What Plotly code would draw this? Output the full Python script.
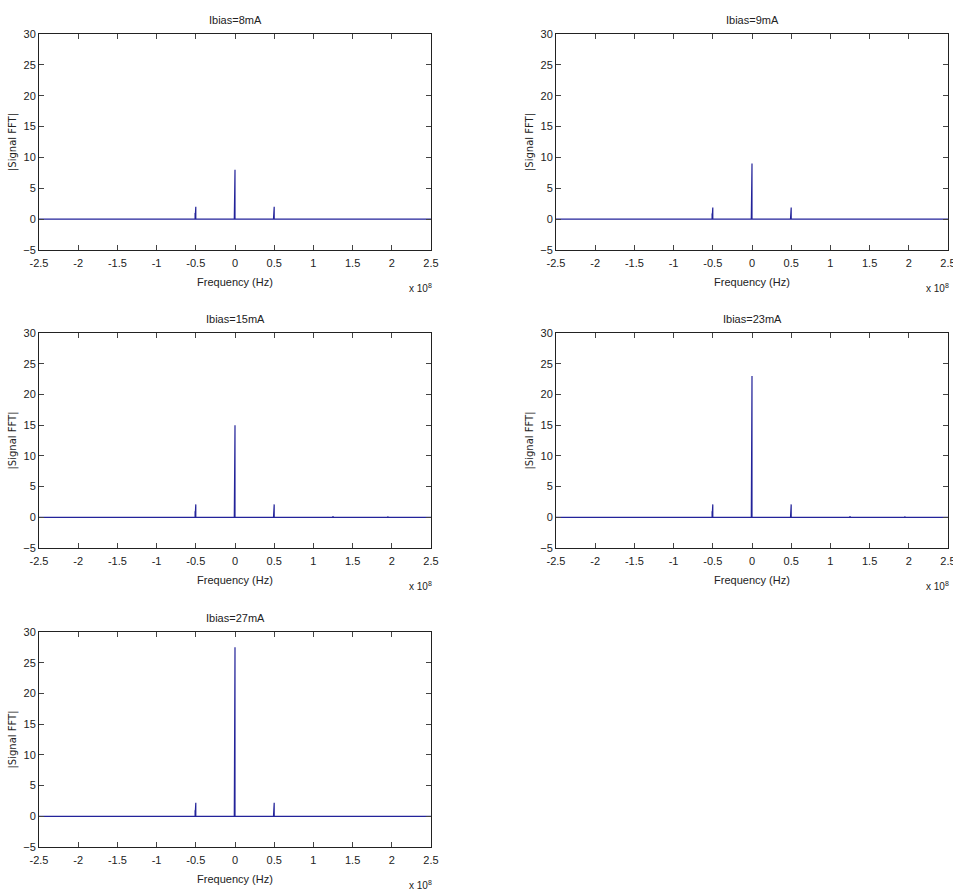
import plotly.graph_objects as go

# ---- data ----
panel_titles = ["Ibias=8mA", "Ibias=9mA", "Ibias=15mA", "Ibias=23mA", "Ibias=27mA"]
spike_freqs = [-0.5e8, 0.0, 0.5e8, 1.25e8, 1.95e8]          # Hz
# main bin height and adjacent bin height for each spike, per panel
peak_main = [
    [2.0, 8.0, 2.0, 0.0, 0.0],
    [1.9, 9.0, 1.9, 0.0, 0.0],
    [2.1, 15.0, 2.1, 0.2, 0.15],
    [2.1, 23.0, 2.1, 0.2, 0.15],
    [2.2, 27.5, 2.2, 0.0, 0.0],
]
peak_adj = [
    [1.0, 4.0, 1.0, 0.0, 0.0],
    [0.9, 4.3, 0.9, 0.0, 0.0],
    [1.0, 7.5, 1.0, 0.0, 0.0],
    [1.0, 11.5, 1.0, 0.0, 0.0],
    [1.0, 13.5, 1.0, 0.0, 0.0],
]
f_min, f_max = -2.5e8, 2.5e8
x_tick_vals = [-2.5e8, -2e8, -1.5e8, -1e8, -0.5e8, 0, 0.5e8, 1e8, 1.5e8, 2e8, 2.5e8]
x_tick_text = ["-2.5", "-2", "-1.5", "-1", "-0.5", "0", "0.5", "1", "1.5", "2", "2.5"]
y_tick_vals = [-5, 0, 5, 10, 15, 20, 25, 30]

# ---- layout geometry (page pixels) ----
W, H = 953, 890
cols_px = [(39, 431), (556, 948)]
rows_px = [(34, 250), (333, 548), (632, 847)]
positions = [(0, 0), (0, 1), (1, 0), (1, 1), (2, 0)]

LINE = "#23239a"
FAM = "Liberation Sans Narrow, Liberation Sans, Arial, sans-serif"
TICKFONT = dict(family=FAM, size=11, color="#222")
LABFONT = dict(family=FAM, size=11, color="#222")

fig = go.Figure()
annotations = []
layout = {}
d = 0.9e6
for i, title in enumerate(panel_titles):
    # build spectrum line from baseline and spikes
    xs, ys = [f_min], [0.0]
    for f, hm, ha in zip(spike_freqs, peak_main[i], peak_adj[i]):
        if hm <= 0:
            continue
        xs += [f - d, f - d, f - d, f, f, f]
        ys += [0.0, ha, 0.0, 0.0, hm, 0.0]
    xs.append(f_max)
    ys.append(0.0)
    n = "" if i == 0 else str(i + 1)
    fig.add_trace(go.Scatter(x=xs, y=ys, mode="lines", line=dict(color=LINE, width=1.2),
                             xaxis="x" + n, yaxis="y" + n, showlegend=False, hoverinfo="skip"))
    r, c = positions[i]
    x0, x1 = cols_px[c]
    y0, y1 = rows_px[r]
    xd = [x0 / W, x1 / W]
    yd = [1 - y1 / H, 1 - y0 / H]
    layout["xaxis" + n] = dict(
        domain=xd, range=[f_min, f_max], anchor="y" + n, automargin=False,
        tickvals=x_tick_vals, ticktext=x_tick_text, ticks="inside", ticklen=5,
        ticklabelstandoff=3, ticklabeloverflow="allow",
        mirror="allticks", showline=True, linecolor="#222", linewidth=1,
        showgrid=False, zeroline=False, tickfont=TICKFONT,
        title=dict(text="Frequency (Hz)", font=LABFONT, standoff=10),
    )
    layout["yaxis" + n] = dict(
        domain=yd, range=[-5, 30], anchor="x" + n, automargin=False,
        tickvals=y_tick_vals, ticks="inside", ticklen=5, ticklabeloverflow="allow",
        mirror="allticks", showline=True, linecolor="#222", linewidth=1,
        showgrid=False, zeroline=False, tickfont=TICKFONT,
        title=dict(text="|Signal FFT|", font=dict(family="DejaVu Sans, sans-serif", size=10, color="#222"), standoff=4),
    )
    annotations.append(dict(text=title, x=(xd[0] + xd[1]) / 2, y=1 - (y0 - 14) / H,
                            xref="paper", yref="paper", showarrow=False,
                            font=LABFONT, xanchor="center", yanchor="middle"))
    annotations.append(dict(text="x 10<sup>8</sup>", x=(x1 - 11) / W, y=1 - (y1 + 38) / H,
                            xref="paper", yref="paper", showarrow=False,
                            font=dict(family=FAM, size=10, color="#222"),
                            xanchor="center", yanchor="middle"))

fig.update_layout(width=W, height=H, margin=dict(l=0, r=0, t=0, b=0),
                  paper_bgcolor="white", plot_bgcolor="white",
                  annotations=annotations, **layout)
fig.write_html("out.html", config={"displayModeBar": False},
               post_script="document.body.style.margin='0';document.body.style.overflow='hidden';")
